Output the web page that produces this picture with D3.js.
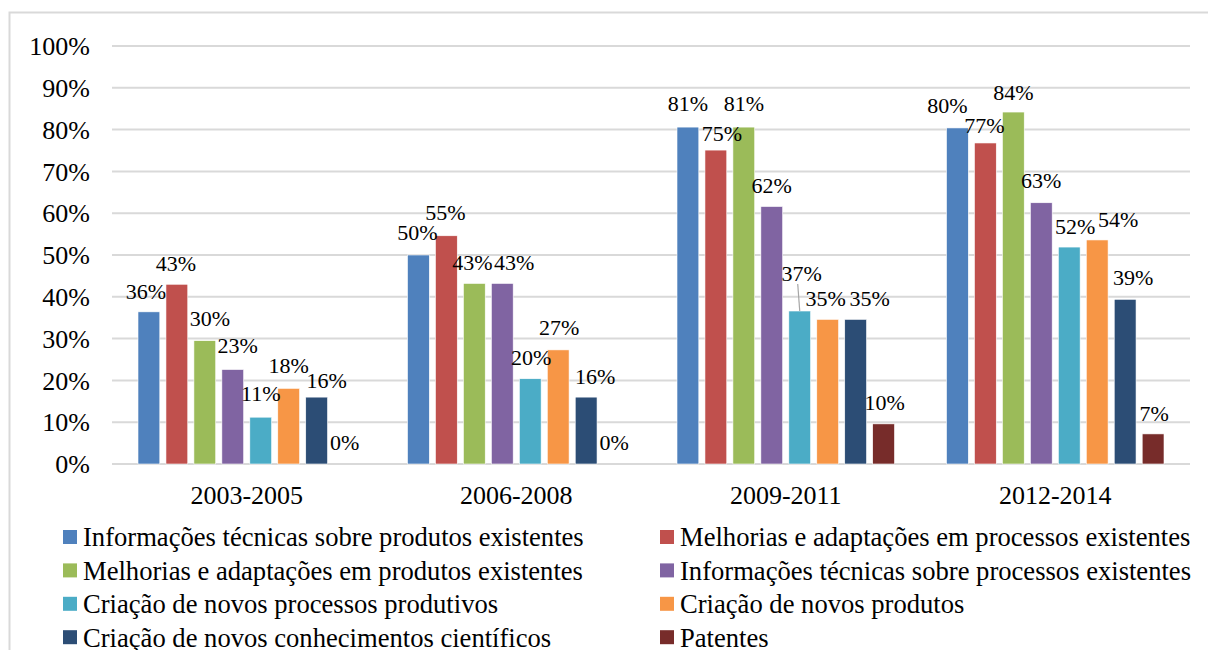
<!DOCTYPE html>
<head>
    <meta charset="utf-8">
    <style>
        body { margin: 0; background: #fff; }
    </style>
    <script src="https://d3js.org/d3.v7.min.js"></script>
</head>
<body>
    <div id="chart"></div>
    <script>

        // periods on the x axis
        var periods = ["2003-2005", "2006-2008", "2009-2011", "2012-2014"];

        // series names (legend order = bar order)
        var seriesNames = [
            "Informações técnicas sobre produtos existentes",
            "Melhorias e adaptações em processos existentes",
            "Melhorias e adaptações em produtos existentes",
            "Informações técnicas sobre processos existentes",
            "Criação de novos processos produtivos",
            "Criação de novos produtos",
            "Criação de novos conhecimentos científicos",
            "Patentes"
        ];

        // values per period, in series order (%)
        var values2003 = [36.4, 43.0, 29.5, 22.6, 11.2, 18.1, 16.0, 0];
        var values2006 = [50.0, 54.6, 43.2, 43.2, 20.4, 27.3, 16.0, 0];
        var values2009 = [80.6, 75.1, 80.6, 61.6, 36.6, 34.6, 34.6, 9.6];
        var values2012 = [80.4, 76.8, 84.2, 62.5, 51.9, 53.6, 39.4, 7.2];

        var yTicks = [0, 10, 20, 30, 40, 50, 60, 70, 80, 90, 100];

        var colors = ["#4F81BD", "#C0504D", "#9BBB59", "#8064A2",
                      "#4BACC6", "#F79646", "#2C4D75", "#772C2A"];

        // hand-moved data labels (dx, dy) like in the original
        var labelNudge = [
            [[-3,0],[-1,0],[5,-1],[5,-3],[0,-3],[0,-2],[10,4],[0,-1]],
            [[-1,-2],[-1,-2],[-2,0],[12,0],[1,0],[1,-2],[9,0],[0,-1]],
            [[0,-3],[6,4],[0,-3],[0,0],[2,-17],[-2,0],[14,0],[1,-1]],
            [[-10,-2],[-1,3],[0,1],[0,-1],[6,0],[21,0],[8,-1],[1,0]]
        ];

        var allValues = [values2003, values2006, values2009, values2012];

        var serif = "'Liberation Serif', 'Times New Roman', serif";

        var w = 1208,
            h = 650;

        var svg = d3.select("#chart")
                    .append("svg")
                    .attr("width", w)
                    .attr("height", h);

        // outer chart border
        svg.append("rect")
           .attr("x", 9.5).attr("y", 12.5)
           .attr("width", 1300).attr("height", 700)
           .attr("fill", "none")
           .attr("stroke", "#d9d9d9")
           .attr("stroke-width", 2);

        var plotLeft = 112, plotRight = 1190,
            plotTop = 46, plotBottom = 464;

        var y = d3.scaleLinear()
                  .domain([0, 100])
                  .range([plotBottom, plotTop]);

        var x0 = d3.scaleBand()
                   .domain(periods)
                   .range([plotLeft, plotRight]);

        var x1 = d3.scaleBand()
                   .domain(d3.range(seriesNames.length))
                   .range([26, x0.bandwidth() - 26])
                   .paddingInner(0.22);

        // gridlines
        svg.append("g")
           .selectAll("line")
           .data(yTicks)
           .enter()
           .append("line")
           .attr("x1", plotLeft).attr("x2", plotRight)
           .attr("y1", function(d) { return y(d); })
           .attr("y2", function(d) { return y(d); })
           .attr("stroke", "#d9d9d9")
           .attr("stroke-width", 2);

        // y axis labels
        svg.append("g")
           .selectAll("text")
           .data(yTicks)
           .enter()
           .append("text")
           .attr("x", 90)
           .attr("y", function(d) { return y(d); })
           .attr("dy", "0.35em")
           .attr("text-anchor", "end")
           .style("font-family", serif)
           .style("font-size", "26px")
           .text(function(d) { return d + "%"; });

        // x axis labels
        svg.append("g")
           .selectAll("text")
           .data(periods)
           .enter()
           .append("text")
           .attr("x", function(d) { return x0(d) + x0.bandwidth() / 2; })
           .attr("y", 495)
           .attr("dy", "0.35em")
           .attr("text-anchor", "middle")
           .style("font-family", serif)
           .style("font-size", "26px")
           .text(function(d) { return d; });

        var groups = svg.append("g")
                        .selectAll("g")
                        .data(periods)
                        .enter()
                        .append("g")
                        .attr("transform", function(d) { return "translate(" + x0(d) + ",0)"; });

        groups.selectAll("rect")
              .data(function(d, gi) { return allValues[gi].map(function(v, i) { return {v: v, i: i}; }); })
              .enter()
              .append("rect")
              .attr("x", function(d) { return x1(d.i); })
              .attr("y", function(d) { return y(d.v); })
              .attr("width", x1.bandwidth())
              .attr("height", function(d) { return plotBottom - y(d.v); })
              .attr("fill", function(d) { return colors[d.i]; })
              .attr("stroke", "#fff")
              .attr("stroke-width", 0.6);

        // data labels
        groups.each(function(p, gi) {
            var g = d3.select(this);
            allValues[gi].forEach(function(v, i) {
                var cx = x1(i) + x1.bandwidth() / 2;
                var lx = cx + labelNudge[gi][i][0];
                var ly = y(v) - 21 + labelNudge[gi][i][1];
                if (labelNudge[gi][i][1] < -10) {
                    // leader line
                    g.append("line")
                     .attr("x1", lx - 4).attr("y1", ly + 11)
                     .attr("x2", cx).attr("y2", y(v))
                     .attr("stroke", "#a6a6a6")
                     .attr("stroke-width", 1.2);
                }
                g.append("text")
                 .attr("x", lx)
                 .attr("y", ly)
                 .attr("dy", "0.35em")
                 .attr("text-anchor", "middle")
                 .style("font-family", serif)
                 .style("font-size", "22px")
                 .text(Math.round(v) + "%");
            });
        });

        // legend, two columns
        var legend = svg.append("g")
                        .selectAll("g")
                        .data(seriesNames)
                        .enter()
                        .append("g")
                        .attr("transform", function(d, i) {
                            var col = i % 2, row = Math.floor(i / 2);
                            return "translate(" + (col ? 660 : 63) + "," + (537 + row * 33.4) + ")";
                        });

        legend.append("rect")
              .attr("x", 0).attr("y", -7)
              .attr("width", 14).attr("height", 14)
              .attr("fill", function(d, i) { return colors[i]; });

        legend.append("text")
              .attr("x", 20)
              .attr("dy", "0.35em")
              .style("font-family", serif)
              .style("font-size", "26.6px")
              .text(function(d) { return d; });

    </script>
</body>
